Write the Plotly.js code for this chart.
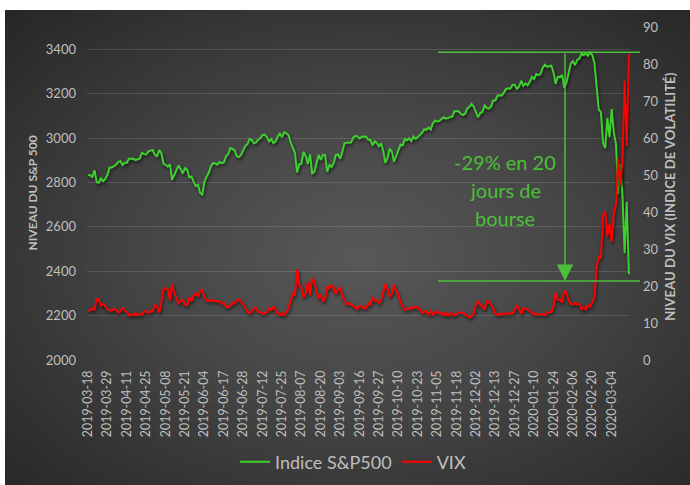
<!DOCTYPE html>
<html>
<head>
<meta charset="utf-8">
<script src="https://cdn.plot.ly/plotly-3.0.1.min.js"></script>
<style>
  html, body { margin:0; padding:0; background:#ffffff; }
  #bg { position:absolute; left:5px; top:10px; width:685px; height:475px;
        background: radial-gradient(ellipse at 52% 52%, #585858 0%, #474747 40%, #262626 100%); }
  #chart { position:absolute; left:0; top:0; width:690px; height:485px; }
</style>
</head>
<body>
<div id="bg"></div>
<div id="chart"></div>
<script>
// ---- DATA ----
const startDate = '2019-03-18';
const endDate = '2020-03-16';
const marketHolidays = ['2019-04-19','2019-05-27','2019-07-04','2019-09-02','2019-11-28','2019-12-25','2020-01-01','2020-01-20','2020-02-17'];

const tickLabels = ['2019-03-18','2019-03-29','2019-04-11','2019-04-25','2019-05-08','2019-05-21','2019-06-04','2019-06-17','2019-06-28','2019-07-12','2019-07-25','2019-08-07','2019-08-20','2019-09-03','2019-09-16','2019-09-27','2019-10-10','2019-10-23','2019-11-05','2019-11-18','2019-12-02','2019-12-13','2019-12-27','2020-01-10','2020-01-24','2020-02-06','2020-02-20','2020-03-04'];

const spx = [
 2832.94,2832.57,2824.23,2854.88,2800.71,2798.36,2818.46,2805.37,2815.44,2834.40,
 2867.19,2867.24,2873.40,2879.39,2892.74,2895.77,2878.20,2888.21,2888.32,2907.41,2905.58,2907.06,2900.45,2905.03,2907.97,2933.68,2927.25,2926.17,2939.88,2943.03,2945.83,
 2923.73,2917.52,2945.64,2932.47,2884.05,2879.42,2870.72,2881.40,2811.87,2834.41,2850.96,2876.32,2859.53,2840.23,2864.36,2856.27,2822.24,2826.06,2802.39,2783.02,2788.86,2752.06,
 2744.45,2803.27,2826.15,2843.49,2873.34,2886.73,2885.72,2879.84,2891.64,2886.98,2889.67,2917.75,2926.46,2954.18,2950.46,2945.35,2917.38,2913.78,2924.92,2941.76,
 2964.33,2973.01,2995.82,2990.41,2975.95,2979.63,2993.07,2999.91,3013.77,3014.30,3004.04,2984.42,2995.11,2976.61,2985.03,3005.47,3019.56,3003.67,3025.86,3020.97,3013.18,2980.38,
 2953.56,2932.05,2844.74,2881.77,2883.98,2938.09,2918.65,2882.70,2926.32,2840.60,2847.60,2888.68,2923.65,2900.51,2924.43,2922.95,2847.11,2878.38,2869.16,2887.94,2924.58,2926.46,
 2906.27,2937.78,2976.00,2978.71,2978.43,2979.39,3000.93,3009.57,3007.39,2997.96,3005.70,3006.73,3006.79,2992.07,2991.78,2966.60,2984.87,2977.62,2961.79,2976.74,
 2940.25,2887.61,2910.63,2952.01,2938.79,2893.06,2919.40,2938.13,2970.27,2966.15,2995.68,2989.69,2997.95,2986.20,3006.72,2995.99,3004.52,3010.29,3022.55,3039.42,3036.89,3046.77,3037.56,
 3066.91,3078.27,3074.62,3076.78,3085.18,3093.08,3087.01,3091.84,3094.04,3096.63,3120.46,3122.03,3120.18,3108.46,3103.54,3110.29,3133.64,3140.52,3153.63,3140.98,
 3113.87,3093.20,3112.76,3117.43,3145.91,3135.96,3132.52,3141.63,3168.57,3168.80,3191.45,3192.52,3191.14,3205.37,3221.22,3224.01,3223.38,3239.91,3240.02,3221.29,3230.78,
 3257.85,3234.85,3246.28,3237.18,3253.05,3274.70,3265.35,3288.13,3283.15,3289.29,3316.81,3329.62,3320.79,3321.75,3325.54,3295.47,3243.63,3276.24,3273.40,3283.66,3225.52,
 3248.92,3297.59,3334.69,3345.78,3327.71,3352.09,3357.75,3379.45,3373.94,3380.16,3370.29,3386.15,3373.23,3337.75,3225.89,3128.21,3116.39,2978.76,2954.22,
 3090.23,3003.37,3130.12,3023.94,2972.37,2746.56,2882.23,2741.38,2480.64,2711.02,2386.13
];

const vix = [
 13.10,13.56,13.91,13.63,16.48,16.33,14.68,15.15,14.43,13.71,
 13.40,13.36,13.74,13.58,12.82,13.18,14.28,13.30,13.02,12.01,12.32,12.18,12.60,12.09,12.42,12.28,13.14,13.25,12.73,13.11,13.12,
 14.80,14.42,12.87,15.44,19.32,19.40,19.10,16.04,20.55,18.06,16.44,15.29,15.96,16.31,14.95,14.75,16.92,15.85,17.50,17.90,17.30,18.71,
 18.86,16.97,16.09,15.93,16.30,15.94,15.99,15.91,15.82,15.28,15.35,14.33,14.33,14.75,15.40,15.26,16.28,16.21,15.82,15.08,
 14.06,12.93,12.57,13.28,13.96,13.97,12.93,12.93,12.39,12.68,12.86,13.97,13.53,14.45,13.53,12.61,12.07,12.74,12.16,12.83,13.94,16.12,
 17.87,17.61,24.59,20.17,19.49,16.91,17.97,21.09,17.52,22.10,21.18,18.47,16.88,17.50,15.80,16.68,19.87,19.32,20.31,19.35,17.88,18.98,
 19.66,17.33,16.27,15.00,15.27,15.20,14.61,14.22,13.74,14.67,14.44,13.95,14.05,15.32,14.91,17.05,15.96,16.07,15.32,16.24,
 18.56,20.56,19.12,17.04,17.86,20.28,18.64,17.57,15.58,14.57,13.54,13.68,13.79,14.25,14.00,14.46,14.01,13.71,12.65,13.11,13.20,12.33,13.22,
 12.30,12.83,13.10,12.62,12.73,12.07,12.69,11.99,12.65,12.47,12.05,12.46,12.86,12.78,12.72,12.34,11.87,11.54,11.75,12.62,
 14.91,15.96,14.80,14.52,13.62,15.86,15.68,14.99,13.94,12.63,12.14,12.29,12.58,12.50,12.51,12.61,12.67,12.65,13.43,14.82,13.78,
 12.47,14.02,13.85,13.79,13.45,12.54,12.56,12.32,12.39,12.42,12.32,12.10,12.85,12.91,12.98,14.56,18.23,16.28,16.39,15.49,18.84,
 17.97,16.05,15.15,14.96,15.47,15.04,15.18,13.74,14.15,13.68,14.83,14.38,15.56,17.08,25.03,27.85,27.56,39.16,40.11,
 33.42,36.82,31.99,39.62,41.94,54.46,47.30,53.90,75.47,57.83,82.69
];

const seriesNames = ['Indice S&P500', 'VIX'];
const annotText = ['-29% en 20', 'jours de', 'bourse'];
const yTitleLeft = 'NIVEAU DU S&P 500';
const yTitleRight = 'NIVEAU DU VIX (INDICE DE VOLATILITÉ)';
const bottomLevel = 2356;

// ---- trading calendar (categories) ----
function tradingDays(start, end, holidays) {
  const out = [];
  const d = new Date(start + 'T00:00:00Z');
  const e = new Date(end + 'T00:00:00Z');
  while (d <= e) {
    const wd = d.getUTCDay();
    const s = d.toISOString().slice(0, 10);
    if (wd !== 0 && wd !== 6 && holidays.indexOf(s) < 0) out.push(s);
    d.setUTCDate(d.getUTCDate() + 1);
  }
  return out;
}
const dates = tradingDays(startDate, endDate, marketHolidays);

const GREEN = '#3ed02e';
const RED = '#ff0000';
const ANN = '#4cbf38';
const TXT = '#bfbfbf';
const FONT = 'Lato, "Open Sans", sans-serif';

const traces = [
  { x: dates, y: spx, type: 'scatter', mode: 'lines', name: seriesNames[0],
    line: { color: GREEN, width: 2 }, yaxis: 'y' },
  { x: dates, y: vix, type: 'scatter', mode: 'lines', name: seriesNames[1],
    line: { color: RED, width: 2 }, yaxis: 'y2' }
];

const L = 87, R = 630, T = 27, B = 360;
const px2paperX = p => (p - L) / (R - L);

const layout = {
  width: 690, height: 485,
  margin: { l: L, r: 690 - R, t: T, b: 485 - B, pad: 0, autoexpand: false },
  paper_bgcolor: 'rgba(0,0,0,0)',
  plot_bgcolor: 'rgba(0,0,0,0)',
  font: { family: FONT, color: TXT },
  showlegend: true,
  legend: { orientation: 'h', x: 0.49, xanchor: 'center', y: (B - 462) / (B - T), yanchor: 'middle',
            font: { family: FONT, size: 18, color: TXT }, itemwidth: 30, bgcolor: 'rgba(0,0,0,0)',
            tracegroupgap: 0 },
  xaxis: {
    type: 'category', range: [-0.5, dates.length - 0.5], automargin: false,
    tickmode: 'array', tickvals: tickLabels, ticktext: tickLabels,
    tickangle: -90, tickfont: { family: FONT, size: 12.4, color: TXT },
    showgrid: false, zeroline: false, showline: false, ticks: '', ticklabelstandoff: 7
  },
  yaxis: {
    range: [2000, 3500], tickmode: 'array', tickvals: [2000,2200,2400,2600,2800,3000,3200,3400],
    showgrid: true, gridcolor: 'rgba(255,255,255,0.13)', gridwidth: 1, zeroline: false, showline: false,
    ticks: '', tickfont: { family: FONT, size: 13, color: TXT }, ticklabelstandoff: 10, automargin: false
  },
  yaxis2: {
    range: [0, 90], overlaying: 'y', side: 'right', tickmode: 'linear', tick0: 0, dtick: 10,
    showgrid: false, zeroline: false, showline: false, ticks: '', automargin: false,
    tickfont: { family: FONT, size: 13, color: TXT }, ticklabelstandoff: 12
  },
  shapes: [
    { type: 'line', xref: 'paper', yref: 'y', x0: px2paperX(438), x1: px2paperX(640),
      y0: Math.max(...spx), y1: Math.max(...spx), line: { color: ANN, width: 1.5 } },
    { type: 'line', xref: 'paper', yref: 'y', x0: px2paperX(438), x1: px2paperX(640),
      y0: bottomLevel, y1: bottomLevel, line: { color: ANN, width: 1.5 } }
  ],
  annotations: [
    { xref: 'paper', yref: 'paper', x: px2paperX(32), y: 0.5, text: '<b>' + yTitleLeft + '</b>',
      textangle: -90, showarrow: false, xanchor: 'center', yanchor: 'middle',
      font: { family: FONT, size: 12, color: TXT } },
    { xref: 'paper', yref: 'paper', x: px2paperX(670), y: 0.49, text: '<b>' + yTitleRight + '</b>',
      textangle: -90, showarrow: false, xanchor: 'center', yanchor: 'middle',
      font: { family: FONT, size: 13.2, color: TXT } },
    { xref: 'paper', yref: 'paper', x: px2paperX(505), y: (B - 162) / (B - T), text: annotText[0],
      showarrow: false, xanchor: 'center', yanchor: 'middle', font: { family: FONT, size: 20, color: ANN } },
    { xref: 'paper', yref: 'paper', x: px2paperX(505), y: (B - 190) / (B - T), text: annotText[1],
      showarrow: false, xanchor: 'center', yanchor: 'middle', font: { family: FONT, size: 20, color: ANN } },
    { xref: 'paper', yref: 'paper', x: px2paperX(505), y: (B - 218) / (B - T), text: annotText[2],
      showarrow: false, xanchor: 'center', yanchor: 'middle', font: { family: FONT, size: 20, color: ANN } },
    { xref: 'paper', yref: 'y', x: px2paperX(565), y: bottomLevel, text: '',
      showarrow: true, ax: 0, ay: -229, axref: 'pixel', ayref: 'pixel',
      arrowhead: 2, arrowsize: 2.2, arrowwidth: 1.5, arrowcolor: ANN, standoff: 0, startstandoff: 0 }
  ]
};

Plotly.newPlot('chart', traces, layout, { staticPlot: true, displayModeBar: false }).then(() => {
  document.querySelectorAll('.scatterlayer .trace').forEach(g => {
    g.style.filter = 'drop-shadow(1px 2px 1.5px rgba(0,0,0,0.6))';
  });
});
</script>
</body>
</html>
